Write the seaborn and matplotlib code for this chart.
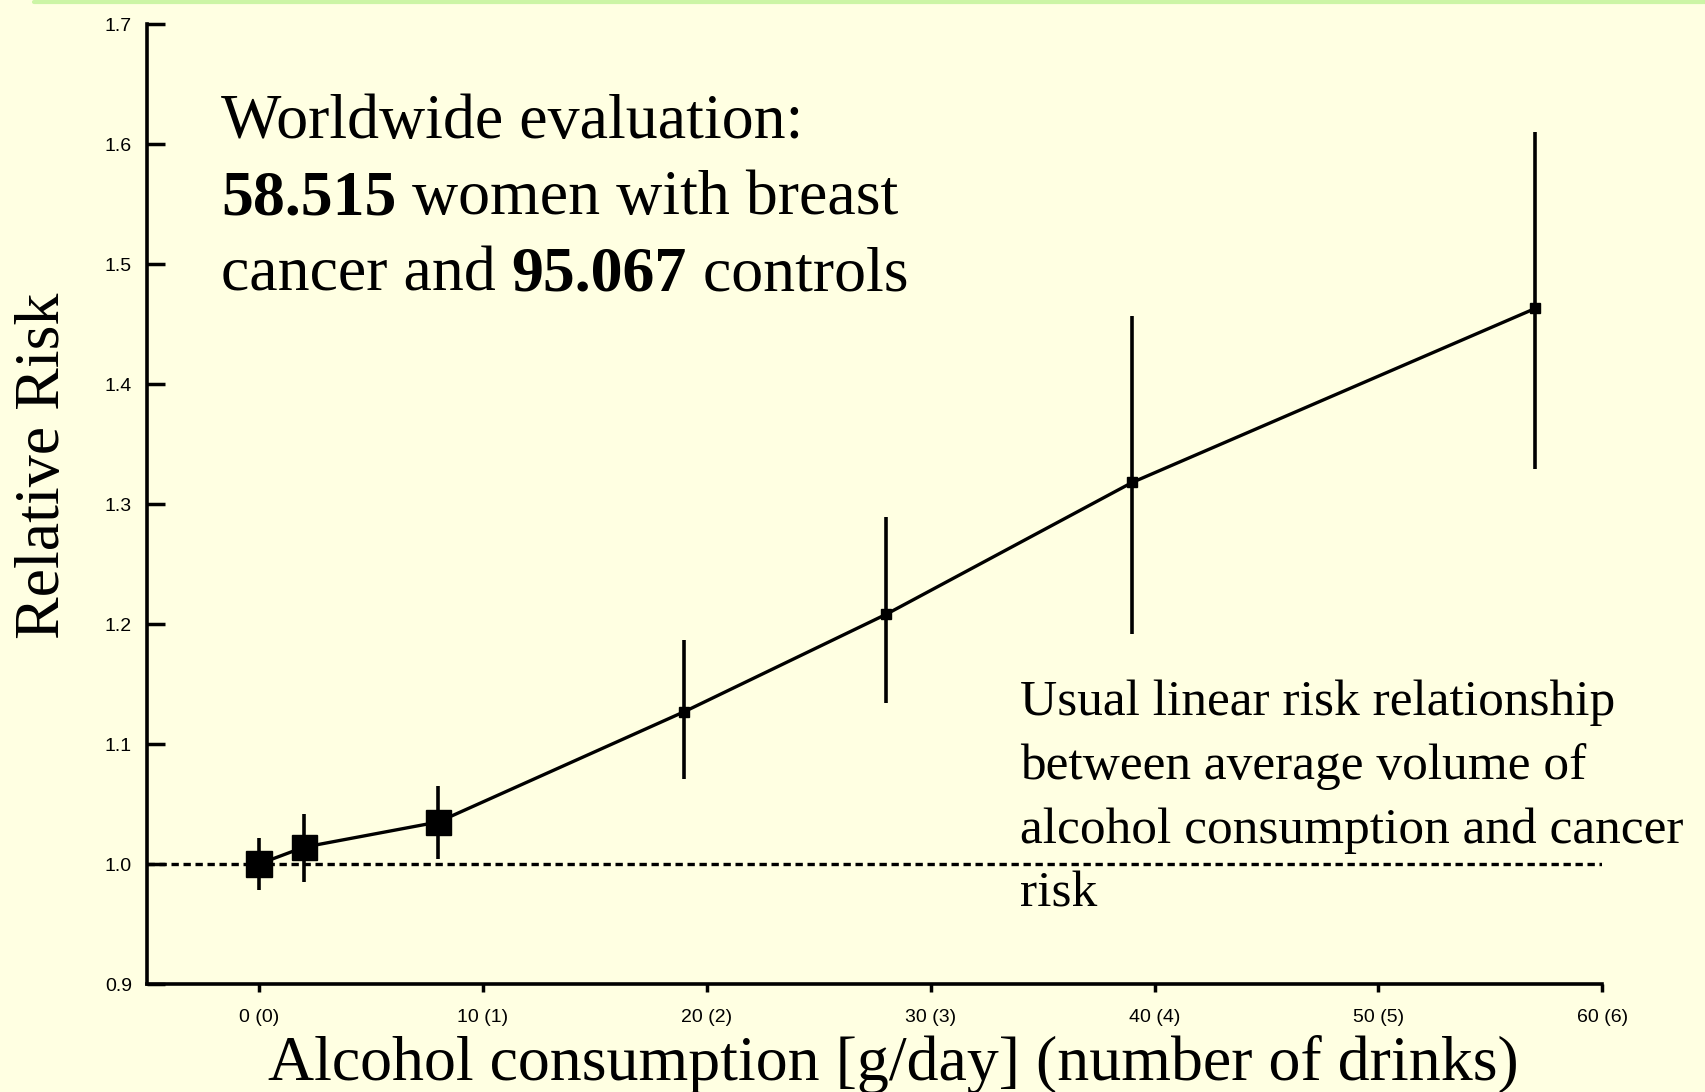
import matplotlib
matplotlib.use('Agg')
import matplotlib.pyplot as plt
import seaborn as sns
import pandas as pd
from matplotlib.lines import Line2D

# values
grams = [0, 2, 8, 19, 28, 39, 57]
rel_risk = [1.0, 1.014, 1.035, 1.127, 1.208, 1.318, 1.463]
ci_low = [0.978, 0.985, 1.004, 1.071, 1.134, 1.192, 1.329]
ci_high = [1.022, 1.042, 1.065, 1.187, 1.289, 1.457, 1.610]

x_ticks = [0, 10, 20, 30, 40, 50, 60]
x_tick_labels = ['0 (0)', '10 (1)', '20 (2)', '30 (3)', '40 (4)', '50 (5)', '60 (6)']
y_ticks = [0.9, 1.0, 1.1, 1.2, 1.3, 1.4, 1.5, 1.6, 1.7]
y_tick_labels = ['0.9', '1.0', '1.1', '1.2', '1.3', '1.4', '1.5', '1.6', '1.7']
reference_rr = 1.0

title_lines = [
    [('Worldwide evaluation:', 'normal')],
    [('58.515', 'bold'), (' women with breast', 'normal')],
    [('cancer and ', 'normal'), ('95.067', 'bold'), (' controls', 'normal')],
]
note_lines = ['Usual linear risk relationship',
              'between average volume of',
              'alcohol consumption and cancer',
              'risk']
x_label = 'Alcohol consumption [g/day] (number of drinks)'
y_label = 'Relative Risk'

# style
bg = '#FFFFE2'
sns.set_style('ticks')
plt.rcParams['font.family'] = ['Liberation Sans', 'DejaVu Sans']
plt.rcParams.update({'text.color': 'black', 'axes.labelcolor': 'black',
                     'xtick.color': 'black', 'ytick.color': 'black',
                     'axes.edgecolor': 'black'})
serif = ['Liberation Serif', 'DejaVu Serif']

df = pd.DataFrame({'grams': grams, 'rr': rel_risk, 'lo': ci_low, 'hi': ci_high})
marker_sizes = [19, 18, 18, 7, 7, 7, 7]

fig = plt.figure(figsize=(17.06, 10.92), dpi=100, facecolor=bg)
ax = fig.add_axes([0.0862, 0.0989, 0.853, 0.879])
ax.set_facecolor(bg)

# reference line at RR = 1
ax.axhline(reference_rr, xmin=0, xmax=1, color='black', lw=2.4,
           linestyle=(0, (2.2, 1.4)), zorder=1)

sns.lineplot(data=df, x='grams', y='rr', ax=ax, color='black', lw=2.4,
             zorder=3, legend=False)
ax.errorbar(df['grams'], df['rr'],
            yerr=[df['rr'] - df['lo'], df['hi'] - df['rr']],
            fmt='none', ecolor='black', elinewidth=2.6, capsize=0, zorder=4)
for xv, yv, ms in zip(df['grams'], df['rr'], marker_sizes):
    ax.plot([xv], [yv], marker='s', ms=ms, color='black', zorder=5)

ax.set_xlim(-5, 60)
ax.set_ylim(0.9, 1.7)
ax.set_xticks(x_ticks)
ax.set_xticklabels(x_tick_labels, fontsize=14)
ax.set_yticks(y_ticks)
ax.set_yticklabels(y_tick_labels, fontsize=14)
ax.tick_params(axis='y', direction='in', length=13, width=2.5, pad=11)
ax.tick_params(axis='x', direction='out', length=6, width=2.5, pad=12)
ax.set_xlabel('')
ax.set_ylabel('')
sns.despine(ax=ax)
for side in ['left', 'bottom']:
    ax.spines[side].set_linewidth(2.6)

# title block with bold numbers
baselines = [0.8736, 0.804, 0.7344]
for parts, yb in zip(title_lines, baselines):
    prev = None
    for txt, weight in parts:
        if prev is None:
            prev = fig.text(0.1295, yb, txt, fontsize=46, fontweight=weight,
                            family=serif, va='baseline', ha='left')
        else:
            prev = ax.annotate(txt, xy=(1, 0), xycoords=prev, fontsize=46,
                               fontweight=weight, family=serif,
                               va='bottom', ha='left',
                               annotation_clip=False)

note_baselines = [0.345, 0.2865, 0.228, 0.1695]
for txt, yb in zip(note_lines, note_baselines):
    fig.text(0.598, yb, txt, fontsize=37, family=serif, va='baseline', ha='left')

fig.text(0.5236, 0.011, x_label, fontsize=46, family=serif,
         ha='center', va='baseline')
fig.text(0.0255, 0.573, y_label, fontsize=46, family=serif, rotation=90,
         ha='center', va='center')

# thin green rule across the top of the slide
fig.add_artist(Line2D([0.02, 1.0], [0.9985, 0.9985], transform=fig.transFigure,
                      color='#CCF5A6', lw=3))

fig.savefig('out.png', dpi=100, facecolor=bg)
